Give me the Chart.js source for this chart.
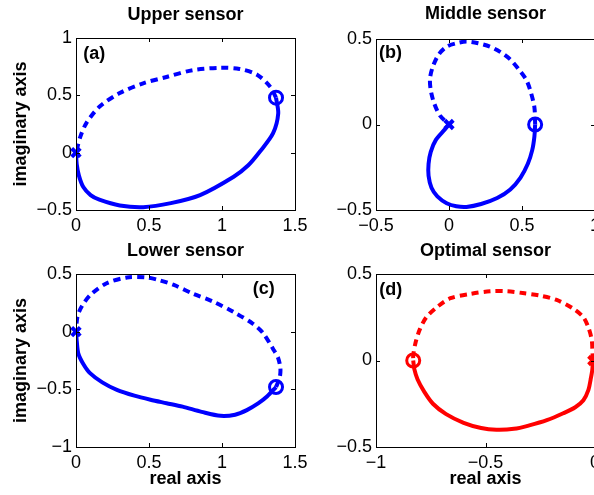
<!DOCTYPE html>
<html>
<head>
<meta charset="utf-8">
<script src="https://cdn.jsdelivr.net/npm/chart.js@4.4.0/dist/chart.umd.min.js"></script>
<style>
  html, body { margin: 0; padding: 0; background: #fff; overflow: hidden; width: 594px; height: 495px; }
  canvas { position: absolute; }
</style>
</head>
<body>
<canvas id="pa" width="340" height="247" style="left:0;top:0"></canvas>
<canvas id="pb" width="340" height="247" style="left:300px;top:0"></canvas>
<canvas id="pc" width="340" height="260" style="left:0;top:235px"></canvas>
<canvas id="pd" width="340" height="260" style="left:300px;top:235px"></canvas>
<script>
// curve points [real, imag]
const upperSolid = [[0,0],[0.005,-0.1],[0.02,-0.2],[0.05,-0.3],[0.1,-0.37],[0.16,-0.41],[0.3,-0.46],[0.46,-0.475],[0.65,-0.44],[0.85,-0.37],[1.08,-0.21],[1.18,-0.11],[1.26,0.01],[1.35,0.17],[1.385,0.34],[1.37,0.48]];
const upperDashed = [[1.37,0.48],[1.33,0.575],[1.24,0.68],[1.12,0.73],[0.99,0.74],[0.8,0.72],[0.62,0.66],[0.46,0.605],[0.3,0.52],[0.16,0.4],[0.07,0.256],[0.03,0.14],[0.01,0.05],[0,0]];
const middleSolid = [[0,0],[-0.03,-0.03],[-0.09,-0.09],[-0.125,-0.16],[-0.14,-0.23],[-0.14,-0.3],[-0.12,-0.37],[-0.08,-0.42],[-0.016,-0.46],[0.05,-0.478],[0.12,-0.482],[0.22,-0.465],[0.33,-0.43],[0.42,-0.38],[0.49,-0.31],[0.54,-0.23],[0.57,-0.15],[0.585,-0.07],[0.59,0]];
const middleDashed = [[0.59,0],[0.585,0.1],[0.56,0.19],[0.53,0.26],[0.48,0.32],[0.42,0.38],[0.35,0.425],[0.28,0.455],[0.2,0.475],[0.12,0.485],[0.05,0.475],[-0.016,0.455],[-0.07,0.41],[-0.11,0.34],[-0.13,0.27],[-0.125,0.2],[-0.1,0.12],[-0.06,0.05],[0,0]];
const lowerSolid = [[0,0],[0.005,-0.08],[0.016,-0.19],[0.05,-0.28],[0.096,-0.36],[0.18,-0.44],[0.28,-0.505],[0.4,-0.555],[0.51,-0.59],[0.62,-0.62],[0.73,-0.65],[0.86,-0.695],[0.99,-0.73],[1.09,-0.72],[1.17,-0.68],[1.25,-0.62],[1.31,-0.56],[1.37,-0.48]];
const lowerDashed = [[1.37,-0.48],[1.395,-0.4],[1.4,-0.32],[1.385,-0.23],[1.35,-0.15],[1.28,-0.01],[1.21,0.07],[1.08,0.17],[0.94,0.26],[0.8,0.33],[0.67,0.405],[0.56,0.45],[0.48,0.47],[0.35,0.47],[0.21,0.42],[0.1,0.32],[0.04,0.22],[0.01,0.13],[0,0]];
const optimalSolid = [[-0.83,0],[-0.825,-0.05],[-0.81,-0.11],[-0.78,-0.18],[-0.74,-0.25],[-0.68,-0.31],[-0.6,-0.36],[-0.52,-0.39],[-0.45,-0.4],[-0.37,-0.395],[-0.3,-0.375],[-0.22,-0.345],[-0.145,-0.305],[-0.09,-0.27],[-0.053,-0.23],[-0.03,-0.17],[-0.02,-0.11],[-0.012,-0.05],[-0.01,0]];
const optimalDashed = [[-0.01,0],[-0.012,0.06],[-0.015,0.12],[-0.03,0.19],[-0.053,0.25],[-0.1,0.3],[-0.175,0.35],[-0.25,0.375],[-0.33,0.39],[-0.4,0.4],[-0.48,0.4],[-0.57,0.385],[-0.66,0.36],[-0.72,0.31],[-0.77,0.25],[-0.8,0.18],[-0.82,0.1],[-0.83,0.03],[-0.83,0]];

// start (x) and end (o) markers
const crossPts = { a: [0, 0], b: [0, 0], c: [0, 0], d: [-0.01, 0] };
const circlePts = { a: [1.37, 0.48], b: [0.59, 0], c: [1.37, -0.48], d: [-0.83, 0] };

const titles = ['Upper sensor', 'Middle sensor', 'Lower sensor', 'Optimal sensor'];
const xRanges = [[0, 1.5], [-0.5, 1], [0, 1.5], [-1, 0]];
const yRanges = [[-0.5, 1], [-0.5, 0.5], [-1, 0.5], [-0.5, 0.5]];

const FONT = '"Liberation Sans", Arial, Helvetica, sans-serif';
const BLUE = '#0000ff';
const RED = '#ff0000';

const fmt = v => {
    const r = Math.round(v * 10) / 10;
    return r < 0 ? '\u2212' + Math.abs(r) : String(r);
};

// MATLAB-like box with inward ticks + panel letter
const framePlugin = {
    id: 'frame',
    afterDatasetsDraw(chart, args, opts) {
        const { ctx, chartArea: a, scales: { x, y } } = chart;
        const t = 4;
        ctx.save();
        ctx.strokeStyle = '#000';
        ctx.lineWidth = 1;
        ctx.strokeRect(Math.round(a.left) + 0.5, Math.round(a.top) + 0.5, Math.round(a.width), Math.round(a.height));
        ctx.beginPath();
        x.ticks.forEach(tk => {
            const px = Math.round(x.getPixelForValue(tk.value)) + 0.5;
            ctx.moveTo(px, a.bottom); ctx.lineTo(px, a.bottom - t);
            ctx.moveTo(px, a.top); ctx.lineTo(px, a.top + t);
        });
        y.ticks.forEach(tk => {
            const py = Math.round(y.getPixelForValue(tk.value)) + 0.5;
            ctx.moveTo(a.left, py); ctx.lineTo(a.left + t, py);
            ctx.moveTo(a.right, py); ctx.lineTo(a.right - t, py);
        });
        ctx.stroke();
        ctx.font = 'bold 18px ' + FONT;
        ctx.fillStyle = '#000';
        ctx.textBaseline = 'middle';
        ctx.fillText(opts.label, x.getPixelForValue(opts.lx), y.getPixelForValue(opts.ly));
        ctx.restore();
    }
};

const toXY = pts => pts.map(p => ({ x: p[0], y: p[1] }));

function panel(id, i, solid, dashed, cross, circle, color, o) {
    new Chart(document.getElementById(id), {
        type: 'scatter',
        data: {
            datasets: [
                { data: toXY(solid), showLine: true, borderColor: color, borderWidth: 4, pointRadius: 0, tension: 0.3 },
                { data: toXY(dashed), showLine: true, borderColor: color, borderWidth: 4, borderDash: [7, 5], pointRadius: 0, tension: 0.3 },
                { data: toXY([cross]), clip: false, pointStyle: 'crossRot', pointRadius: 6, borderColor: color, pointBorderWidth: 4 },
                { data: toXY([circle]), clip: false, pointStyle: 'circle', pointRadius: 6.5, borderColor: color, backgroundColor: 'rgba(0,0,0,0)', pointBorderWidth: 3 }
            ]
        },
        options: {
            responsive: false,
            animation: false,
            layout: { padding: { left: 0, right: 45, top: 0, bottom: 0 } },
            plugins: {
                legend: { display: false },
                tooltip: { enabled: false },
                title: {
                    display: true,
                    text: titles[i],
                    fullSize: false,
                    color: '#000',
                    font: { family: FONT, size: 18, weight: 'bold' },
                    padding: { top: o.titleTop, bottom: o.titleBottom }
                },
                frame: { label: o.label, lx: o.lx, ly: o.ly }
            },
            scales: {
                x: {
                    type: 'linear',
                    min: xRanges[i][0],
                    max: xRanges[i][1],
                    grid: { display: false, drawTicks: false },
                    border: { display: false },
                    ticks: { stepSize: 0.5, autoSkip: false, maxRotation: 0, padding: 5, color: '#000', font: { family: FONT, size: 18 }, callback: fmt },
                    title: { display: o.xTitle, text: 'real axis', color: '#000', font: { family: FONT, size: 18, weight: 'bold' }, padding: { top: 0, bottom: 5 } },
                    afterFit: s => { s.height = o.xh; }
                },
                y: {
                    type: 'linear',
                    min: yRanges[i][0],
                    max: yRanges[i][1],
                    grid: { display: false, drawTicks: false },
                    border: { display: false },
                    ticks: { stepSize: 0.5, autoSkip: false, padding: 4, color: '#000', font: { family: FONT, size: 18 }, callback: fmt },
                    title: { display: o.yTitle, text: 'imaginary axis', color: '#000', font: { family: FONT, size: 18, weight: 'bold' }, padding: { top: 10, bottom: 0 } },
                    afterFit: s => { s.width = 76; }
                }
            }
        },
        plugins: [framePlugin]
    });
}

panel('pa', 0, upperSolid, upperDashed, crossPts.a, circlePts.a, BLUE,
    { titleTop: 4, titleBottom: 12.4, xh: 37, xTitle: false, yTitle: true, label: '(a)', lx: 0.05, ly: 0.86 });
panel('pb', 1, middleSolid, middleDashed, crossPts.b, circlePts.b, BLUE,
    { titleTop: 3, titleBottom: 14.4, xh: 37, xTitle: false, yTitle: false, label: '(b)', lx: -0.48, ly: 0.42 });
panel('pc', 2, lowerSolid, lowerDashed, crossPts.c, circlePts.c, BLUE,
    { titleTop: 5.7, titleBottom: 11.7, xh: 48, xTitle: true, yTitle: true, label: '(c)', lx: 1.21, ly: 0.37 });
panel('pd', 3, optimalSolid, optimalDashed, crossPts.d, circlePts.d, RED,
    { titleTop: 5.7, titleBottom: 11.7, xh: 48, xTitle: true, yTitle: false, label: '(d)', lx: -0.985, ly: 0.41 });
</script>
</body>
</html>
